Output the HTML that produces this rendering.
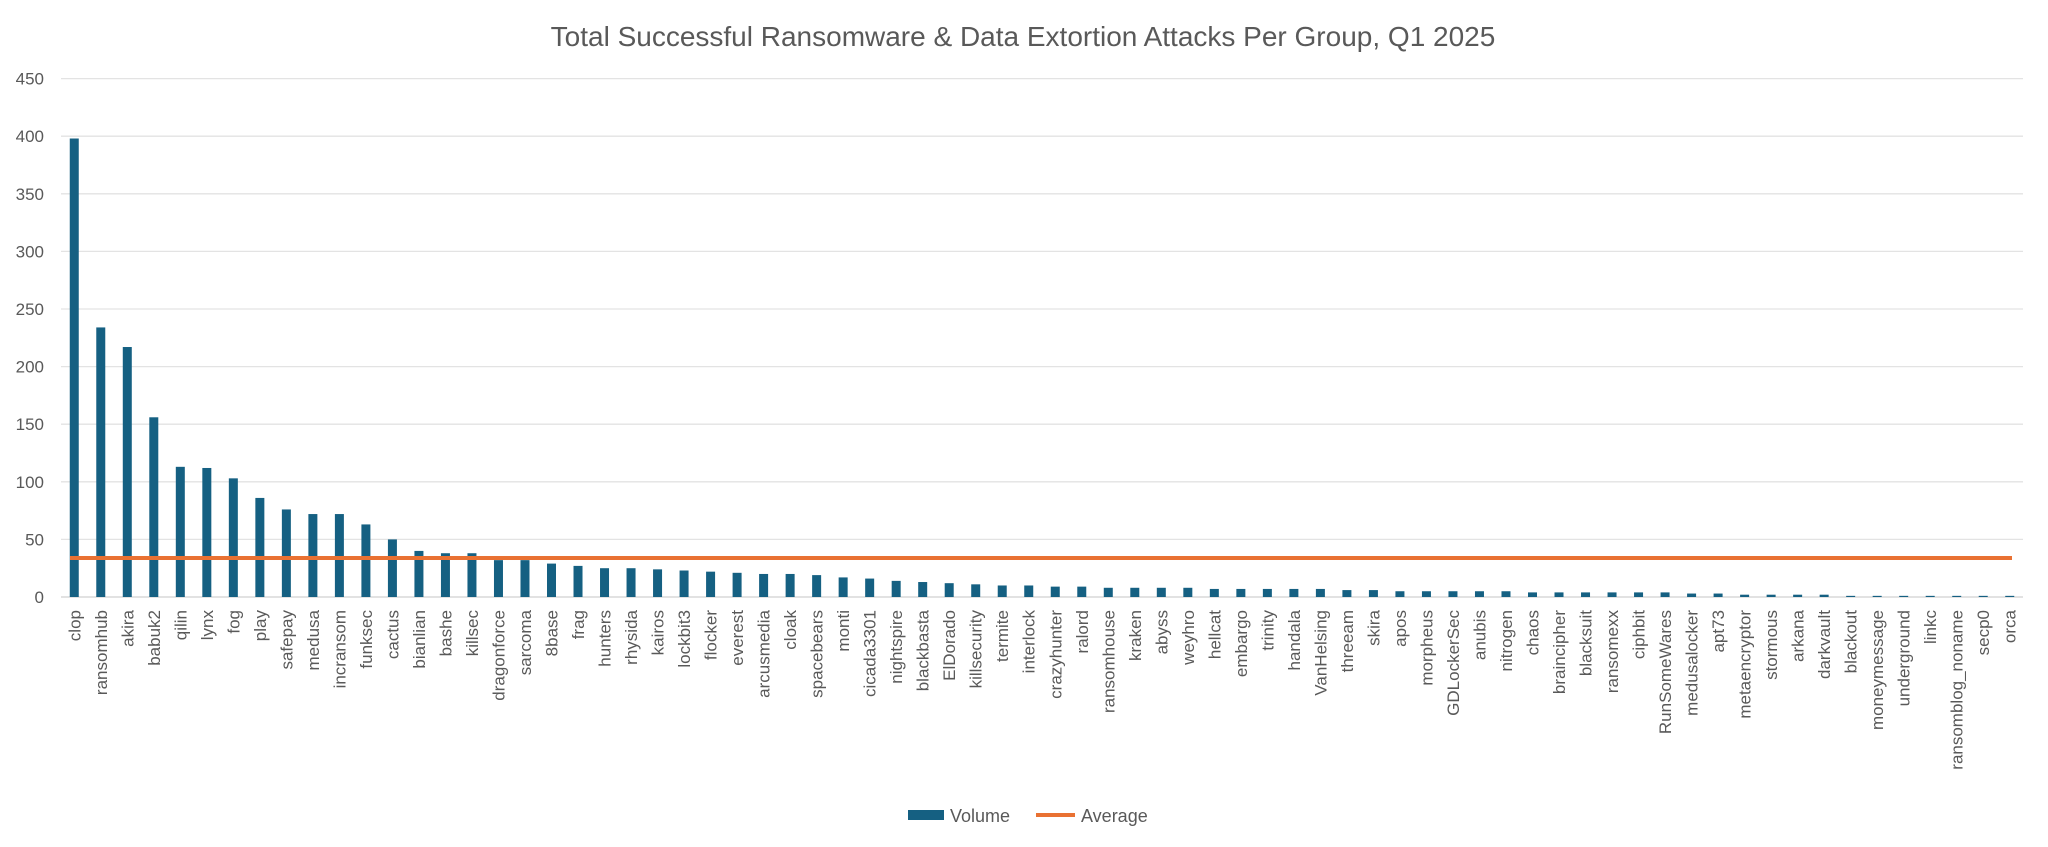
<!DOCTYPE html>
<html><head><meta charset="utf-8"><style>
html,body{margin:0;padding:0;background:#fff;}
svg{display:block;font-family:"Liberation Sans",sans-serif;}
</style></head><body>
<svg id="c" width="2048" height="847" xmlns="http://www.w3.org/2000/svg">
<rect width="2048" height="847" fill="#fff"/>
<text x="1023" y="46" text-anchor="middle" font-size="28" fill="#595959">Total Successful Ransomware &amp; Data Extortion Attacks Per Group, Q1 2025</text>
<g id="g"></g>
<rect x="908" y="810" width="36" height="10" fill="#156082"/>
<text x="950" y="822" font-size="18" fill="#595959">Volume</text>
<line x1="1036" y1="815" x2="1075" y2="815" stroke="#E97132" stroke-width="4"/>
<text x="1081" y="822" font-size="18" fill="#595959">Average</text>
</svg>
<script>
var names="clop ransomhub akira babuk2 qilin lynx fog play safepay medusa incransom funksec cactus bianlian bashe killsec dragonforce sarcoma 8base frag hunters rhysida kairos lockbit3 flocker everest arcusmedia cloak spacebears monti cicada3301 nightspire blackbasta ElDorado killsecurity termite interlock crazyhunter ralord ransomhouse kraken abyss weyhro hellcat embargo trinity handala VanHelsing threeam skira apos morpheus GDLockerSec anubis nitrogen chaos braincipher blacksuit ransomexx ciphbit RunSomeWares medusalocker apt73 metaencryptor stormous arkana darkvault blackout moneymessage underground linkc ransomblog_noname secp0 orca".split(" ");
var vals=[398,234,217,156,113,112,103,86,76,72,72,63,50,40,38,38,32,32,29,27,25,25,24,23,22,21,20,20,19,17,16,14,13,12,11,10,10,9,9,8,8,8,8,7,7,7,7,7,6,6,5,5,5,5,5,4,4,4,4,4,4,3,3,2,2,2,2,1,1,1,1,1,1,1];
var s="",y0=597,k=1.152,L=61,R=2023,step=(R-L)/74;
for(var v=0;v<=450;v+=50){var y=y0-v*k;
s+='<line x1="'+L+'" x2="'+R+'" y1="'+y+'" y2="'+y+'" stroke="'+(v==0?'#d0d0d0':'#e3e3e3')+'" stroke-width="1.3"/>';
s+='<text x="44" y="'+(y+6)+'" text-anchor="end" font-size="17" fill="#595959">'+v+'</text>';}
for(var i=0;i<names.length;i++){var cx=L+step*(i+0.5),h=vals[i]*k;
s+='<rect x="'+(cx-4.5)+'" y="'+(y0-h)+'" width="9" height="'+h+'" fill="#156082"/>';
s+='<text transform="translate('+(cx+6)+',610) rotate(-90)" text-anchor="end" font-size="17" fill="#595959">'+names[i]+'</text>';}
var ya=y0-33.8*k;
s+='<line x1="70" x2="2012" y1="'+ya+'" y2="'+ya+'" stroke="#E97132" stroke-width="4"/>';
document.getElementById("g").innerHTML=s;
</script>
</body></html>
